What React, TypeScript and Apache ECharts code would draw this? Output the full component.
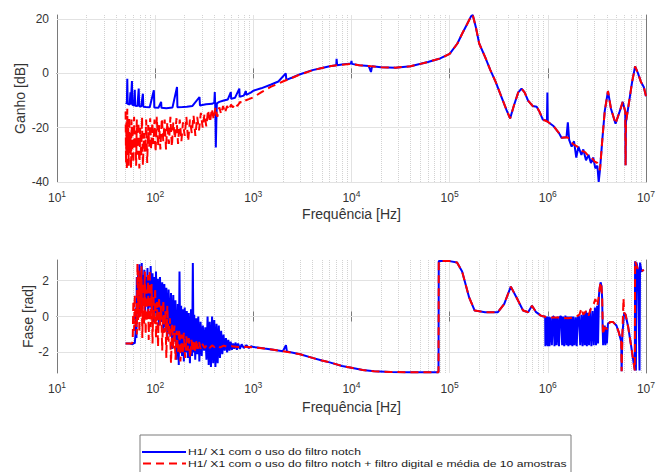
import React, { useEffect, useRef } from 'react';
import * as echarts from 'echarts';

const NAME_BLUE = 'H1/ X1 com o uso do filtro notch';
const NAME_RED = 'H1/ X1 com o uso do filtro notch + filtro digital e média de 10 amostras';

const decades = [10, 100, 1000, 10000, 100000, 1000000];
const minorMultipliers = [2, 3, 4, 5, 6, 7, 8, 9];
const magTicks = [-40, -20, 0, 20];
const phaseTicks = [-2, 0, 2];

// Gain [dB] – blue (notch only)
const magBlue: [number, number][] = [
  [50, -10.8], [51.5, -11], [52, -2], [52.5, -11.2], [55, -11.5], [56, -7], [56.5, -11.4], [58, -2.8], [58.6, -11.6],
  [61, -11.8], [62, -6], [62.6, -11.9], [66, -12], [68, -5.6], [68.8, -12.1], [72, -12.2], [75, -7.5], [75.8, -12.3],
  [80, -12.4], [88, -12.5], [97, -6.2], [98, -12.6], [108, -12.7], [115, -10.5], [116, -12.7], [130, -12.8], [150, -12.6],
  [167, -5], [168.5, -12.5], [190, -12.4], [210, -12.3], [240, -12], [283, -8.7], [286, -11.8], [330, -11.4], [380, -11.2],
  [400, -10.8], [405, -6.9], [410, -13], [415, -27.3], [420, -18], [425, -11], [450, -10.5], [500, -10], [550, -9.6],
  [590, -6.9], [595, -9.4], [650, -9], [720, -5.6], [726, -8.6], [800, -8.2], [840, -6.5], [848, -7.9], [950, -7],
  [1000, -6.4], [1200, -5.5], [1500, -4.2], [1800, -3], [2140, 0], [2170, -2.4], [2500, -1.5], [3000, -0.3], [4000, 1.2],
  [5000, 2], [6000, 2.6], [7000, 3], [7050, 5.4], [7150, 3], [8000, 3.3], [9000, 3.5], [9900, 3.6], [10000, 4.6],
  [10100, 3.5], [12000, 3], [15000, 2.7], [15800, 0.5], [16200, 2.6], [20000, 2.3], [28000, 2.1], [40000, 2.6],
  [60000, 4.2], [80000, 5.5], [100000, 7.2], [120000, 11], [134000, 14.6], [150000, 18], [165000, 21], [172000, 21.5],
  [185000, 17], [200000, 11], [230000, 6], [260000, 1.2], [295000, -3.2], [340000, -9], [380000, -13.5], [413000, -16.6],
  [450000, -12], [500000, -7], [540000, -5.6], [580000, -7], [630000, -10], [700000, -12], [770000, -12.3], [820000, -14],
  [890000, -17], [980000, -17.5], [990000, -7], [1000000, -17.8], [1150000, -19.5], [1300000, -22], [1380000, -23.7],
  [1550000, -23.5], [1600000, -18], [1650000, -24.5], [1750000, -27], [1850000, -25], [1950000, -31], [2050000, -27],
  [2200000, -30], [2300000, -28], [2450000, -32], [2600000, -30], [2750000, -33], [2900000, -31], [3050000, -35],
  [3200000, -34], [3300000, -40], [3400000, -35.5], [3600000, -24], [3800000, -14], [4100000, -6.5], [4400000, -13],
  [4900000, -18.5], [5400000, -14], [5800000, -10.5], [6150000, -14], [6200000, -33.8], [6250000, -18], [6700000, -11],
  [7200000, -3.5], [7750000, 2.6], [8300000, 0], [8900000, -3.2], [9500000, -5], [10000000, -8.4],
];

// Gain [dB] – red (notch + digital filter + 10-sample average)
const magRed: [number, number][] = [
  [50, -14], [50.5, -33], [51, -18], [51.5, -35.5], [52, -13], [52.6, -30], [53.2, -20], [53.8, -34], [54.5, -16],
  [55.2, -29], [56, -22], [56.8, -35], [57.5, -17], [58.3, -31], [59, -19], [60, -33], [61, -16], [62, -28], [63, -21],
  [64, -34], [65, -17], [66, -30], [67.5, -18], [69, -35], [70.5, -20], [72, -31], [73.5, -16], [75, -34], [77, -22],
  [79, -29], [81, -17], [83, -33], [85, -19], [87, -27], [89, -16.5], [91, -28], [93.5, -18], [96, -26], [98.5, -17],
  [101, -29], [104, -16], [107, -27], [110, -19], [113, -28], [117, -16.5], [121, -25], [125, -17], [129, -28],
  [133, -18], [138, -26], [143, -16], [148, -27], [153, -18], [159, -24], [165, -16.5], [171, -26], [178, -17],
  [185, -25], [192, -18], [200, -23], [208, -16], [217, -25], [226, -17], [236, -22], [246, -15.5], [257, -23],
  [268, -16], [280, -21], [292, -14.5], [305, -20], [318, -15], [332, -19.5], [346, -13.5], [362, -18], [378, -13],
  [395, -17], [412, -12.5], [430, -16], [450, -12.5], [470, -15], [492, -12], [515, -14.5], [540, -12], [565, -13.5],
  [592, -11.5], [620, -12.5], [650, -11], [690, -12], [730, -10.5], [780, -11], [830, -10], [900, -9.5], [1000, -8.8],
  [1200, -7], [1500, -5], [2000, -3], [2500, -1.6], [3000, -0.4], [4000, 1.1], [5000, 2], [6000, 2.6], [8000, 3.2],
  [10000, 3.5], [12000, 3], [16000, 2.6], [20000, 2.3], [28000, 2.1], [40000, 2.6], [60000, 4.2], [80000, 5.5],
  [100000, 7.2], [120000, 11], [134000, 14.6], [150000, 18], [165000, 21], [172000, 21.5], [185000, 17], [200000, 11],
  [230000, 6], [260000, 1.2], [295000, -3.2], [340000, -9], [380000, -13.5], [413000, -16.6], [450000, -12],
  [500000, -7], [540000, -5.6], [580000, -7], [630000, -10], [700000, -12], [770000, -12.3], [820000, -14],
  [890000, -17], [1000000, -17.8], [1150000, -19.5], [1300000, -22], [1380000, -23.7], [1550000, -23.5],
  [1650000, -24], [1800000, -26], [2000000, -27], [2200000, -28.5], [2400000, -29], [2600000, -30.5], [2800000, -31],
  [3000000, -32.5], [3200000, -33], [3400000, -35.6], [3600000, -24], [3800000, -14], [4100000, -6.5], [4400000, -13],
  [4900000, -18.5], [5400000, -14], [5800000, -10.5], [6150000, -14], [6200000, -33.8], [6250000, -18], [6700000, -11],
  [7200000, -3.5], [7750000, 2.6], [8300000, 0], [8900000, -3.2], [9500000, -5], [10000000, -8.4],
];

// Phase [rad] – blue
const phaseBlue: [number, number][] = [
  [50, -1.5], [55, -1.5], [59, -1.55], [60, -1.45], [62, -1.5], [63, -1.0], [64, 0.5], [64.5, -1.2], [65, 2.2],
  [66, 0.3], [67, 2.5], [68, 0.8], [69, 2.9], [70, 0.2], [71, 2.4], [72, 1.0], [73, 2.97], [74, 0.4], [75, 2.3],
  [76, 0.9], [77.5, 2.6], [79, 0.2], [80.5, 2.2], [82, 0.8], [83.5, 2.7], [85, -0.1], [86.5, 2.3], [88, 0.5], [90, 2.8],
  [92, 0.3], [94, 2.4], [96, -0.3], [98, 2.2], [100, 0.2], [102, 2.5], [104, -0.2], [106.5, 2.1], [109, -0.5],
  [112, 2.2], [115, -0.3], [118, 1.9], [121, -0.9], [124, 1.8], [127, -0.6], [130, 1.6], [133, -1.2], [137, 1.5],
  [141, -1.0], [145, 1.3], [149, -1.8], [153, 1.2], [157, -1.4], [161, 0.9], [165, -2.4], [170, 0.7], [174, -2.7],
  [177, 2.5], [180, -1.6], [184, 0.6], [188, -2.2], [192, 0.4], [196, -2.5], [200, 0.5], [205, -2.0], [210, 0.3],
  [215, -2.3], [220, 0.2], [226, -2.6], [232, 0.4], [238, -2.2], [242, 2.97], [246, -2.0], [250, 0.1], [256, -2.4],
  [262, -0.1], [268, -2.1], [275, 0.0], [282, -2.5], [290, -0.3], [298, -2.2], [306, -0.5], [315, -1.9], [324, -0.6],
  [333, -2.4], [342, 0.0], [351, -2.7], [360, -0.3], [370, -2.8], [380, 0.0], [390, -2.6], [400, -0.2], [411, -2.8],
  [422, -0.4], [433, -2.6], [445, -0.5], [457, -2.3], [470, -0.8], [483, -2.1], [497, -1.0], [511, -1.9], [526, -1.2],
  [541, -2.0], [556, -1.3], [572, -1.9], [588, -1.4], [605, -1.85], [622, -1.5], [640, -1.8], [660, -1.45], [680, -1.85],
  [700, -1.5], [730, -1.8], [760, -1.55], [800, -1.75], [850, -1.6], [900, -1.75], [950, -1.65], [1000, -1.7],
  [1100, -1.72], [1300, -1.78], [1600, -1.85], [2000, -1.93], [2150, -1.6], [2200, -1.95], [3000, -2.1], [4000, -2.3],
  [5000, -2.45], [6000, -2.55], [8000, -2.75], [10000, -2.85], [13000, -2.97], [17000, -3.05], [25000, -3.08],
  [40000, -3.1], [60000, -3.1], [77000, -3.1], [77500, 3.08], [100000, 3.08], [119000, 3.0], [134000, 2.5],
  [158000, 1.06], [180000, 0.33], [230000, 0.24], [310000, 0.24], [360000, 0.7], [420000, 1.66], [480000, 1.06],
  [560000, 0.33], [630000, 0.24], [690000, 0.6], [760000, 0.24], [850000, 0.05], [900000, 0.0], [940000, 0.0],
  [945000, -1.65], [955000, 0.0], [975000, -1.6], [985000, 0.0], [1000000, -1.65], [1020000, 0.0], [1040000, -1.65],
  [1070000, -0.05], [1100000, -1.6], [1130000, 0.0], [1150000, 0.0], [1170000, -1.65], [1200000, -0.05],
  [1230000, -1.6], [1260000, 0.0], [1300000, -1.65], [1330000, 0.0], [1370000, 0.0], [1400000, -1.6], [1430000, 0.0],
  [1470000, -1.65], [1510000, 0.05], [1550000, -1.6], [1580000, 0.0], [1620000, -1.65], [1660000, 0.0],
  [1700000, -1.6], [1740000, 0.0], [1780000, -1.65], [1820000, 0.0], [1870000, -1.6], [1920000, -0.05],
  [1970000, -1.65], [2020000, 0.0], [2080000, 0.0], [2140000, -1.6], [2200000, 0.1], [2260000, -1.65], [2320000, 0.2],
  [2380000, -1.6], [2440000, 0.3], [2500000, -1.65], [2560000, 0.2], [2630000, -1.6], [2700000, 0.4], [2780000, -1.65],
  [2860000, 0.3], [2940000, -1.6], [3020000, 0.5], [3100000, -1.6], [3180000, 0.6], [3250000, -1.5], [3320000, 1.2],
  [3380000, 1.6], [3450000, 1.9], [3520000, 1.7], [3580000, 1.0], [3620000, -0.6], [3660000, -1.6], [3700000, -0.5],
  [3740000, -1.5], [3800000, -0.5], [3860000, -1.6], [3930000, -0.6], [4000000, -1.5], [4100000, -0.4],
  [4300000, -0.3], [4600000, -0.3], [5000000, -0.5], [5300000, -0.9], [5600000, -1.4], [5650000, -3.05],
  [5750000, -1.0], [6000000, 0.2], [6200000, 0.1], [6600000, -0.6], [7000000, -1.5], [7500000, -2.6], [7700000, -3.0],
  [7750000, 3.07], [7900000, -3.0], [8000000, 3.0], [8300000, 2.6], [8600000, -3.0], [8700000, 3.0], [9000000, 2.5],
  [9500000, 2.6],
];

// Phase [rad] – red
const phaseRed: [number, number][] = [
  [50, -1.5], [58, -1.5], [59, -1.4], [60, 0.9], [61, -0.8], [62, 1.2], [63, -0.5], [64, 0.3], [65, -1.0], [66, 2.97],
  [67, -0.2], [68, 2.6], [69, -0.9], [70, 2.2], [71, 0.0], [72.5, 2.8], [74, -1.2], [75.5, 1.9], [77, -0.4],
  [78.5, 2.5], [80, -1.0], [81.5, 1.5], [83, -0.3], [84.5, 2.3], [86, -1.3], [88, 2.6], [90, -0.6], [92, 1.8],
  [94, -1.5], [96, 1.2], [98, -0.4], [100, 1.6], [102, -1.2], [104.5, 0.8], [107, -1.7], [109.5, 1.1], [112, -0.5],
  [115, 0.6], [118, -1.9], [121, 0.9], [124, -0.9], [127, 0.3], [130, -2.3], [133, 0.6], [137, -1.4], [141, -0.1],
  [145, -2.6], [149, -0.4], [153, -1.8], [157, -0.5], [161, -2.4], [166, -0.8], [171, -2.0], [176, -0.7], [181, -2.5],
  [186, -1.0], [191, -2.1], [196, -0.9], [202, -2.3], [208, -1.1], [214, -1.9], [220, -1.2], [227, -2.3], [234, -1.3],
  [241, -1.9], [248, -1.3], [256, -2.0], [264, -1.3], [272, -1.8], [280, -1.4], [290, -1.8], [300, -1.5],
  [320, -1.75], [340, -1.55], [360, -1.75], [380, -1.6], [400, -1.7], [430, -1.6], [460, -1.72], [500, -1.62],
  [550, -1.7], [600, -1.65], [700, -1.7], [800, -1.68], [1000, -1.72], [1300, -1.78], [1600, -1.85], [2000, -1.93],
  [3000, -2.1], [4000, -2.3], [5000, -2.45], [6000, -2.55], [8000, -2.75], [10000, -2.85], [13000, -2.97],
  [17000, -3.05], [25000, -3.08], [40000, -3.1], [60000, -3.1], [77000, -3.1], [77500, 3.08], [100000, 3.08],
  [119000, 3.0], [134000, 2.5], [158000, 1.06], [180000, 0.33], [230000, 0.24], [310000, 0.24], [360000, 0.7],
  [420000, 1.66], [480000, 1.06], [560000, 0.33], [630000, 0.24], [690000, 0.6], [760000, 0.24], [850000, 0.05],
  [1000000, -0.05], [1300000, -0.05], [1600000, -0.1], [1900000, -0.05], [2100000, 0.1], [2200000, 0.45],
  [2300000, 0.1], [2450000, 0.3], [2600000, 0.05], [2750000, 0.45], [2900000, 0.6], [3050000, 0.97], [3200000, 0.6],
  [3320000, 1.2], [3380000, 1.6], [3450000, 1.9], [3520000, 1.7], [3580000, 1.0], [3650000, -1.0], [3800000, -0.6],
  [4000000, -0.7], [4300000, -0.3], [4600000, -0.3], [5000000, -0.5], [5300000, -0.9], [5600000, -1.4],
  [5650000, -3.05], [5750000, -1.0], [5900000, 1.0], [6000000, 0.2], [6200000, 0.1], [6600000, -0.6], [7000000, -1.5],
  [7500000, -2.6], [7700000, -3.0], [7750000, 3.07], [8300000, 2.6], [9000000, 2.5], [9500000, 2.6],
];

const FONT = '"Liberation Sans", Arial, Helvetica, sans-serif';
const FRAME = '#7a7a7a';
const LABEL = '#333333';
const GRID_MAJOR = '#e2e2e2';
const GRID_MINOR = '#d2d2d2';
const BLUE = '#0000ff';
const RED = '#ff0000';
const DASH = [8, 5];

const minorValues: number[] = [];
decades.forEach((d) => minorMultipliers.forEach((m) => minorValues.push(d * m)));

function App() {
  const ref = useRef<HTMLDivElement>(null);

  useEffect(() => {
    if (!ref.current) return;
    const chart = echarts.init(ref.current, undefined, { renderer: 'svg' });

    const xBase = (gridIndex: number) => ({
      type: 'log' as const,
      logBase: 10,
      min: 10,
      max: 1e7,
      gridIndex,
      position: 'bottom' as const,
      axisLine: { show: true, lineStyle: { color: FRAME, width: 1 } },
      axisTick: { show: true, inside: true, length: 5, lineStyle: { color: FRAME } },
      splitLine: { show: true, lineStyle: { color: GRID_MAJOR, width: 1 } },
      axisLabel: {
        show: true,
        margin: 7,
        color: LABEL,
        fontFamily: FONT,
        fontSize: 12,
        formatter: (v: number) => `10{e|${Math.round(Math.log10(v))}}`,
        rich: { e: { fontSize: 8.5, fontFamily: FONT, color: LABEL, padding: [0, 0, 9, 0] } },
      },
      name: 'Frequência [Hz]',
      nameLocation: 'middle' as const,
      nameGap: gridIndex === 0 ? 25 : 27,
      nameMoveOverlap: false,
      nameTextStyle: { fontFamily: FONT, fontSize: 14, color: LABEL },
    });
    const xTop = (gridIndex: number) => ({
      type: 'log' as const,
      logBase: 10,
      min: 10,
      max: 1e7,
      gridIndex,
      position: 'top' as const,
      axisLine: { show: true, lineStyle: { color: FRAME, width: 1 } },
      axisTick: { show: true, inside: true, length: 5, lineStyle: { color: FRAME } },
      splitLine: { show: false },
      axisLabel: { show: false },
    });
    const yBase = (gridIndex: number, min: number, max: number, ticks: number[], name: string, gap: number) => ({
      type: 'value' as const,
      gridIndex,
      min,
      max,
      position: 'left' as const,
      axisLine: { show: true, lineStyle: { color: FRAME, width: 1 } },
      axisTick: { show: true, inside: true, length: 5, customValues: ticks, lineStyle: { color: FRAME } },
      splitLine: { show: false },
      axisLabel: { show: true, customValues: ticks, margin: 8, color: LABEL, fontFamily: FONT, fontSize: 12 },
      name,
      nameLocation: 'middle' as const,
      nameGap: gap,
      nameMoveOverlap: false,
      nameTextStyle: { fontFamily: FONT, fontSize: 14, color: LABEL },
    });
    const yRight = (gridIndex: number, min: number, max: number, ticks: number[]) => ({
      type: 'value' as const,
      gridIndex,
      min,
      max,
      position: 'right' as const,
      axisLine: { show: true, lineStyle: { color: FRAME, width: 1 } },
      axisTick: { show: true, inside: true, length: 5, customValues: ticks, lineStyle: { color: FRAME } },
      splitLine: { show: false },
      axisLabel: { show: false },
    });

    const gridLines = (ticks: number[]) => ({
      silent: true,
      symbol: ['none', 'none'],
      label: { show: false },
      z: 1,
      animation: false,
      data: [
        ...minorValues.map((v) => ({ xAxis: v, lineStyle: { type: 'dotted' as const, color: GRID_MINOR, width: 1 } })),
        ...ticks.map((v) => ({ yAxis: v, lineStyle: { type: 'solid' as const, color: GRID_MAJOR, width: 1 } })),
      ],
    });

    const lineCommon = {
      type: 'line' as const,
      showSymbol: false,
      symbol: 'none',
      z: 3,
      animation: false,
    };

    // Legend box drawn as graphic elements (MATLAB-style box, partly cut by the page bottom)
    const LG_X = 140;
    const LG_Y = 435;
    const legendGraphic = [
      {
        type: 'rect',
        z: 100,
        shape: { x: LG_X, y: LG_Y, width: 431, height: 60 },
        style: { fill: '#ffffff', stroke: FRAME, lineWidth: 1 },
      },
      {
        type: 'line',
        z: 101,
        shape: { x1: LG_X + 2, y1: 452, x2: LG_X + 46, y2: 452 },
        style: { stroke: BLUE, lineWidth: 2 },
      },
      {
        type: 'line',
        z: 101,
        shape: { x1: LG_X + 3, y1: 463.5, x2: LG_X + 46, y2: 463.5 },
        style: { stroke: RED, lineWidth: 2, lineDash: DASH },
      },
      {
        type: 'text',
        z: 101,
        x: LG_X + 48,
        y: 452,
        scaleX: 1.28,
        style: { text: NAME_BLUE, fontFamily: FONT, fontSize: 9.5, fill: '#1a1a1a', align: 'left', verticalAlign: 'middle' },
      },
      {
        type: 'text',
        z: 101,
        x: LG_X + 48,
        y: 463.5,
        scaleX: 1.28,
        style: { text: NAME_RED, fontFamily: FONT, fontSize: 9.5, fill: '#1a1a1a', align: 'left', verticalAlign: 'middle' },
      },
    ];

    const option: any = {
      animation: false,
      backgroundColor: '#ffffff',
      grid: [
        { left: 57, top: 15, width: 591, height: 167 },
        { left: 57, top: 260, width: 591, height: 113 },
      ],
      xAxis: [xBase(0), xBase(1), xTop(0), xTop(1)],
      yAxis: [
        yBase(0, -40, 21.5, magTicks, 'Ganho [dB]', 30),
        yBase(1, -Math.PI, Math.PI, phaseTicks, 'Fase [rad]', 22),
        yRight(0, -40, 21.5, magTicks),
        yRight(1, -Math.PI, Math.PI, phaseTicks),
      ],
      graphic: legendGraphic,
      series: [
        { ...lineCommon, name: '_grid0', xAxisIndex: 0, yAxisIndex: 0, data: [], z: 1, markLine: gridLines(magTicks) },
        {
          ...lineCommon,
          name: NAME_BLUE,
          xAxisIndex: 0,
          yAxisIndex: 0,
          data: magBlue,
          lineStyle: { color: BLUE, width: 2 },
          itemStyle: { color: BLUE },
        },
        {
          ...lineCommon,
          name: NAME_RED,
          xAxisIndex: 0,
          yAxisIndex: 0,
          data: magRed,
          z: 4,
          lineStyle: { color: RED, width: 2, type: DASH },
          itemStyle: { color: RED },
        },
        { ...lineCommon, name: '_grid1', xAxisIndex: 1, yAxisIndex: 1, data: [], z: 1, markLine: gridLines(phaseTicks) },
        {
          ...lineCommon,
          name: NAME_BLUE,
          xAxisIndex: 1,
          yAxisIndex: 1,
          data: phaseBlue,
          lineStyle: { color: BLUE, width: 2 },
          itemStyle: { color: BLUE },
        },
        {
          ...lineCommon,
          name: NAME_RED,
          xAxisIndex: 1,
          yAxisIndex: 1,
          data: phaseRed,
          z: 4,
          lineStyle: { color: RED, width: 2, type: DASH },
          itemStyle: { color: RED },
        },
      ],
    };

    chart.setOption(option);
    return () => chart.dispose();
  }, []);

  return (
    <div
      ref={ref}
      style={{ position: 'fixed', left: 0, top: 0, width: 658, height: 472, background: '#ffffff' }}
    />
  );
}

export default App;
